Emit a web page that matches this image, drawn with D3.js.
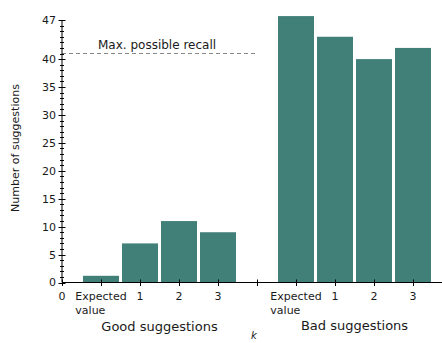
<!DOCTYPE html>
<html><head><meta charset="utf-8">
<script src="https://cdn.jsdelivr.net/npm/d3@7"></script>
<style>body{margin:0;background:#fff}svg{display:block}text{font-family:"DejaVu Sans",sans-serif;fill:#1a1a1a}</style>
</head><body>
<script>
const groups = ["Good suggestions", "Bad suggestions"];
const categories = ["Expected value", "1", "2", "3"];
const goodValues = [1.2, 7, 11, 9];
const badValues = [47.7, 44, 40, 42];
const maxRecall = 41;
const maxRecallLabel = "Max. possible recall";
const yTickLabels = [0, 5, 10, 15, 20, 25, 30, 35, 40, 47];
const xTickLabels = ["0", "Expected value", "1", "2", "3", "", "Expected value", "1", "2", "3"];

const W = 442, H = 343;
const svg = d3.select("body").append("svg").attr("width", W).attr("height", H);
const x = d3.scaleLinear().domain([0, 10]).range([62, 452]);
const y = d3.scaleLinear().domain([0, 47]).range([282.5, 20]);
const slot = x(1) - x(0);
const barW = slot - 3;

const bars = [];
goodValues.forEach((v, i) => bars.push({pos: 1 + i, v}));
badValues.forEach((v, i) => bars.push({pos: 6 + i, v}));

svg.selectAll("rect.bar").data(bars).join("rect").attr("class", "bar")
  .attr("x", d => x(d.pos) - barW / 2).attr("width", barW)
  .attr("y", d => y(d.v)).attr("height", d => y(0) - y(d.v))
  .attr("fill", "#417f79");

// max recall line
svg.append("line").attr("x1", x(0)).attr("x2", x(5)).attr("y1", y(maxRecall)).attr("y2", y(maxRecall))
  .attr("stroke", "#888").attr("stroke-width", 1.2).attr("stroke-dasharray", "4,3");
svg.append("text").attr("x", 98).attr("y", y(maxRecall) - 5).attr("font-size", 12).text(maxRecallLabel);

// y axis
const yAxis = svg.append("g");
yAxis.append("line").attr("x1", 62).attr("x2", 62).attr("y1", y(47)).attr("y2", y(0)).attr("stroke", "#000");
yAxis.selectAll("line.minor").data(d3.range(0, 48)).join("line").attr("class", "minor")
  .attr("x1", d => yTickLabels.includes(d) ? 58.5 : 60).attr("x2", d => yTickLabels.includes(d) ? 65.5 : 64)
  .attr("y1", d => Math.round(y(d)) + 0.5).attr("y2", d => Math.round(y(d)) + 0.5)
  .attr("stroke", "#000").attr("stroke-width", 1);
yAxis.selectAll("text").data(yTickLabels).join("text")
  .attr("x", 56).attr("y", d => y(d)).attr("dy", "0.36em").attr("text-anchor", "end")
  .attr("font-size", 11).text(d => d);

// x axis
const xAxis = svg.append("g");
xAxis.append("line").attr("x1", 62).attr("x2", W).attr("y1", y(0)).attr("y2", y(0)).attr("stroke", "#000");
xAxis.selectAll("line.t").data(d3.range(0, 10)).join("line").attr("class", "t")
  .attr("x1", d => Math.round(x(d)) + 0.5).attr("x2", d => Math.round(x(d)) + 0.5)
  .attr("y1", y(0) - 3).attr("y2", y(0) + 3.5).attr("stroke", "#000");
xTickLabels.forEach((lab, i) => {
  if (!lab) return;
  const parts = lab.split(" ");
  const t = xAxis.append("text").attr("font-size", 11).attr("y", 300);
  if (parts.length === 1) {
    t.attr("x", x(i)).attr("text-anchor", "middle").text(lab);
  } else {
    t.text(parts[0]);
    const w = t.node().getComputedTextLength();
    const x0 = x(i) - w / 2;
    t.attr("x", x0);
    xAxis.append("text").attr("font-size", 11).attr("x", x0).attr("y", 313.5).text(parts[1]);
  }
});

// group labels
svg.append("text").attr("x", x(2.5)).attr("y", 331).attr("text-anchor", "middle").attr("font-size", 13).text(groups[0]);
svg.append("text").attr("x", x(7.5)).attr("y", 330).attr("text-anchor", "middle").attr("font-size", 13).text(groups[1]);
svg.append("text").attr("x", 254).attr("y", 339).attr("text-anchor", "middle").attr("font-size", 10).attr("font-style", "italic").text("k");

// y label
svg.append("text").attr("transform", "translate(19,148) rotate(-90)").attr("text-anchor", "middle")
  .attr("font-size", 11).text("Number of suggestions");
</script>
</body></html>
